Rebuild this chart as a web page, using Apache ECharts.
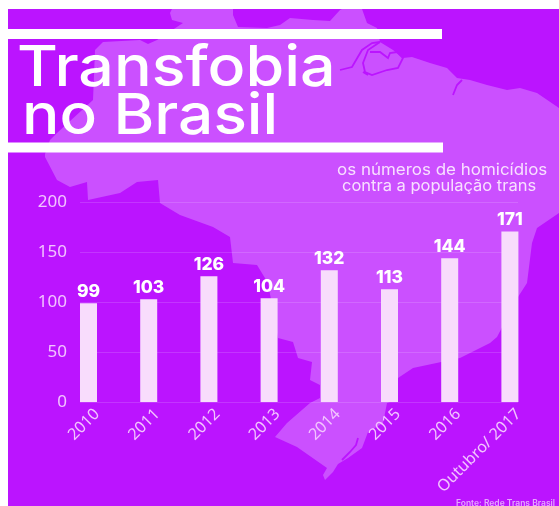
<!DOCTYPE html>
<html>
<head>
<meta charset="utf-8">
<script src="https://cdn.jsdelivr.net/npm/echarts@6/dist/echarts.min.js"></script>
<style>html,body{margin:0;padding:0;background:#fff}#c{width:559px;height:506px}</style>
</head>
<body>
<div id="c"></div>
<script>
const categories = ['2010','2011','2012','2013','2014','2015','2016','Outubro/ 2017'];
const homicides = [99,103,126,104,132,113,144,171];
const yTicks = [0,50,100,150,200];

const BG = '#BB14FF', LAND = '#CB50FF', BAR = '#F8DCFC', TICK = '#F2C4FF';
const landOutline = [[172,9],[233,9],[233,15],[238,27],[267,28],[280,25],[290,18],[313,20],[330,21],[340,10],[342,9],[362,9],[367,23],[377,28],[380,42],[393,50],[403,58],[412,57],[430,63],[447,68],[457,78],[470,80],[487,85],[507,90],[520,88],[537,93],[559,108],[559,213],[537,228],[532,243],[527,283],[518,297],[497,337],[490,343],[460,358],[413,368],[398,378],[396,400],[387,403],[383,423],[368,432],[362,448],[348,458],[338,464],[333,472],[325,480],[323,475],[327,468],[297,447],[275,437],[287,423],[310,403],[320,398],[320,385],[310,380],[312,362],[298,358],[293,342],[278,338],[268,283],[257,265],[233,263],[230,237],[213,227],[180,215],[160,203],[158,180],[137,182],[120,193],[88,200],[87,182],[70,187],[57,180],[45,157],[45,154],[50,140],[57,133],[93,100],[95,50],[103,42],[140,40],[148,44],[157,40],[183,23],[172,20],[170,13]];
const deltaLines = [
  [[340,70],[352,67],[362,50],[372,43],[380,42]],
  [[380,42],[368,50],[363,63],[365,72],[372,75],[387,70],[398,68],[403,58],[397,52],[390,53],[388,58],[380,52],[370,52]],
  [[363,72],[368,75]],
  [[453,95],[457,85],[462,80]],
  [[342,460],[350,452],[356,445],[358,438]]
];

const chart = echarts.init(document.getElementById('c'), null, {renderer:'canvas'});
const titleText = (text, x, y, size, scale, weight, fill) => ({
  type:'text', z:20, x, y, scaleX:scale,
  style:{text, fill, font:weight+' '+size+'px Inter', textVerticalAlign:'middle'}
});
const graphics = [
  {type:'rect', z:-10, shape:{x:8,y:9,width:551,height:497}, style:{fill:BG}},
  {type:'polygon', z:-9, shape:{points:landOutline}, style:{fill:LAND}},
  ...deltaLines.map(p => ({type:'polyline', z:-8, shape:{points:p}, style:{stroke:BG,lineWidth:1.8,fill:null}})),
  {type:'rect', z:-5, shape:{x:8,y:29,width:434,height:10}, style:{fill:'#fff'}},
  {type:'rect', z:-5, shape:{x:8,y:142.5,width:435,height:10}, style:{fill:'#fff'}},
  titleText('Transfobia', 17, 69, 56, 1.12, 500, '#fff'),
  titleText('no Brasil', 22, 117, 56, 1.11, 500, '#fff'),
  titleText('os números de homicídios', 337, 170, 16, 1.06, 400, '#F8E0FF'),
  titleText('contra a população trans', 342, 186.5, 16, 1.03, 400, '#F8E0FF'),
  titleText('Fonte: Rede Trans Brasil', 456, 503, 8.5, 1, 600, '#E6A6FF')
];

chart.setOption({
  animation:false,
  backgroundColor:'#fff',
  graphic:graphics,
  grid:[
    {left:58.4, width:481.6, top:202.5, height:199.5},
    {left:80, width:438, top:202.5, height:199.5}
  ],
  xAxis:[
    {type:'category', gridIndex:0, data:categories,
     axisLine:{show:false}, axisTick:{show:false},
     axisLabel:{color:TICK,fontFamily:'Noto Sans',fontSize:16,rotate:45,margin:18,interval:0,padding:[0,-12,0,0]}},
    {type:'value', gridIndex:1, min:0, max:1, show:false}
  ],
  yAxis:[
    {type:'value', gridIndex:0, min:0, max:200, interval:50,
     axisLine:{show:false}, axisTick:{show:false}, splitLine:{show:false},
     axisLabel:{color:TICK,fontFamily:'Noto Sans',fontSize:17,margin:-8.6,
       formatter:v => yTicks.includes(v) ? String(v) : ''}},
    {type:'value', gridIndex:1, min:0, max:200, interval:50,
     axisLine:{show:false}, axisTick:{show:false}, axisLabel:{show:false},
     splitLine:{show:true,lineStyle:{color:'rgba(255,255,255,0.14)',width:1}}}
  ],
  series:[{
    type:'bar', xAxisIndex:0, yAxisIndex:0, data:homicides, barWidth:17,
    itemStyle:{color:BAR},
    label:{show:true,position:'top',distance:2.5,color:'#fff',fontFamily:'Inter',fontWeight:800,fontSize:17.5}
  }]
});
</script>
</body>
</html>
